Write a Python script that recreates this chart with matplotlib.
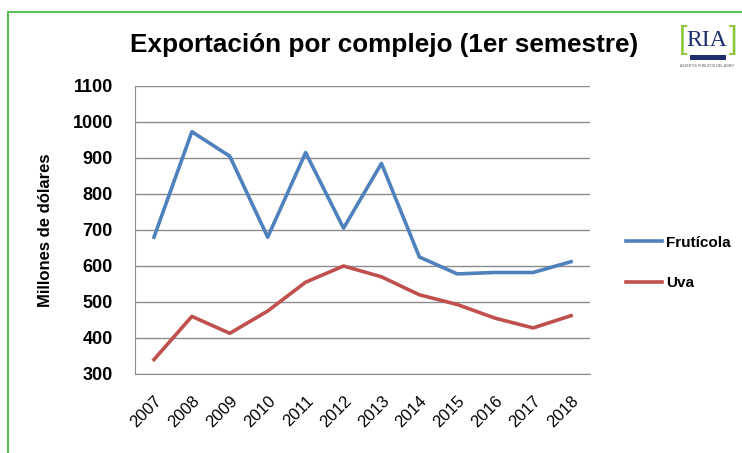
import matplotlib.pyplot as plt
import matplotlib.patches as patches

years = ["2007", "2008", "2009", "2010", "2011", "2012",
         "2013", "2014", "2015", "2016", "2017", "2018"]
fruticola = [680, 973, 905, 680, 915, 705, 885, 625, 578, 582, 582, 612]
uva = [340, 460, 413, 475, 555, 600, 570, 520, 493, 455, 428, 462]
y_ticks = [300, 400, 500, 600, 700, 800, 900, 1000, 1100]

plt.rcParams['font.family'] = ['Liberation Sans', 'DejaVu Sans']

W, H = 742, 453
fig = plt.figure(figsize=(W / 100, H / 100), dpi=100)

# green frame around the chart
fig.patches.append(patches.Rectangle((8 / W, -0.05), 1.1, 1 - 12 / H + 0.05,
                                     transform=fig.transFigure, fill=False,
                                     edgecolor="#5cbf5c", linewidth=1.5))

ax = fig.add_axes([135 / W, 1 - 374 / H, 455 / W, (374 - 86) / H])
x = range(len(years))
ax.plot(x, fruticola, color="#4f81bd", linewidth=2.6, label="Frutícola")
ax.plot(x, uva, color="#c0504d", linewidth=2.6, label="Uva")

ax.set_xlim(-0.5, len(years) - 0.5)
ax.set_ylim(300, 1100)
ax.set_yticks(y_ticks)
ax.set_xticks(list(x))
ax.set_xticklabels(years, rotation=45, ha="right", rotation_mode="anchor", fontsize=12)
ax.tick_params(axis="y", labelsize=13, length=0, pad=16)
ax.tick_params(axis="x", length=0, pad=14)
for lbl in ax.get_yticklabels():
    lbl.set_fontweight("bold")
ax.grid(axis="y", color="#8c8c8c", linewidth=1)
ax.set_axisbelow(True)
for s in ["top", "right"]:
    ax.spines[s].set_visible(False)
for s in ["left", "bottom"]:
    ax.spines[s].set_color("#8c8c8c")

ax.set_ylabel("Millones de dólares", fontsize=12, fontweight="bold", labelpad=14)

fig.text(384 / W, 1 - 45 / H, "Exportación por complejo (1er semestre)",
         ha="center", va="center", fontsize=18.8, fontweight="bold")

ax.legend(loc="center left", bbox_to_anchor=(612 / W, 1 - 263 / H),
          bbox_transform=fig.transFigure, frameon=False,
          handlelength=2.4, handletextpad=0.25, labelspacing=1.75,
          prop={"weight": "bold", "size": 11})

# logo
fig.text(707 / W, 1 - 40 / H, "RIA", ha="center", va="center",
         fontsize=17, color="#1f2f6b", family="Liberation Serif")
fig.text(683 / W, 1 - 40 / H, "[", ha="center", va="center",
         fontsize=22, color="#8cc63f")
fig.text(733 / W, 1 - 40 / H, "]", ha="center", va="center",
         fontsize=22, color="#8cc63f")
fig.patches.append(patches.Rectangle((690 / W, 1 - 60 / H), 36 / W, 5 / H,
                                     transform=fig.transFigure,
                                     facecolor="#1f2f6b", edgecolor="none"))
fig.text(707 / W, 1 - 66 / H, "ASUNTOS PÚBLICOS DEL AGRO", ha="center",
         va="center", fontsize=2.5, color="#555555")

fig.savefig("out.png", dpi=100)
